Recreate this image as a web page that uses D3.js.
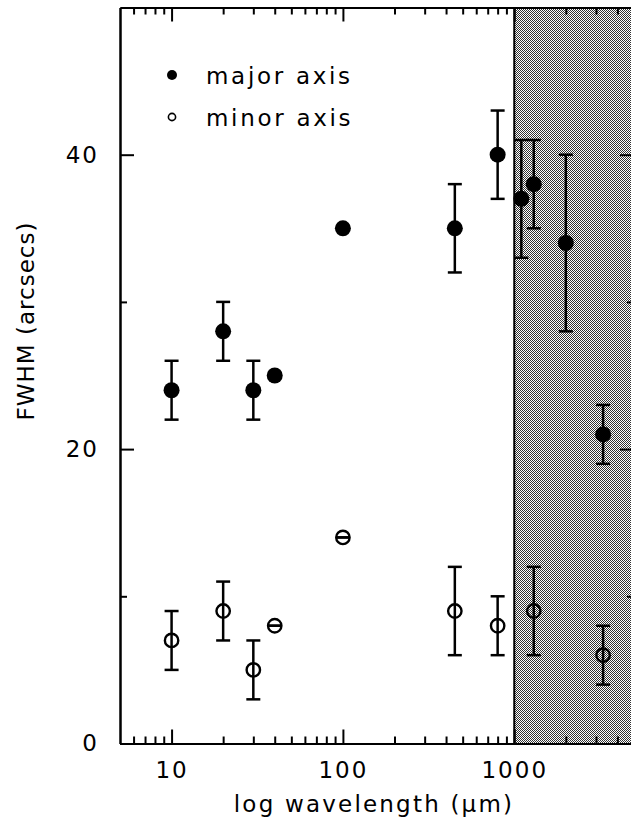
<!DOCTYPE html>
<html>
<head>
<meta charset="utf-8">
<script src="https://cdn.jsdelivr.net/npm/d3@7"></script>
<style>
  body { margin: 0; background: #fff; }
  svg { display: block; }
</style>
</head>
<body>
<script>
! function () {
  // data
  let majorWave = [10, 20, 30, 40, 100, 450, 800, 1100, 1300, 2000, 3300];
  let majorFwhm = [24, 28, 24, 25, 35, 35, 40, 37, 38, 34, 21];
  let majorErr = [2, 2, 2, 0, 0, 3, 3, 4, 3, 6, 2];

  let minorWave = [10, 20, 30, 40, 100, 450, 800, 1300, 3300];
  let minorFwhm = [7, 9, 5, 8, 14, 9, 8, 9, 6];
  let minorErr = [2, 2, 2, 0, 0, 3, 2, 3, 2];

  let xMajorTicks = [10, 100, 1000];
  let xMinorTicks = [6, 7, 8, 9, 20, 30, 40, 50, 60, 70, 80, 90,
    200, 300, 400, 500, 600, 700, 800, 900, 2000, 3000, 4000];
  let yMajorTicks = [0, 20, 40];
  let yMinorTicks = [10, 30];
  let shadeFrom = 1000;

  let font = '"DejaVu Sans", sans-serif';

  let svg = d3.select('body').append('svg').attr('width', 631).attr('height', 823);

  let x = d3.scaleLog().domain([5, 5000]).range([120, 634]);
  let y = d3.scaleLinear().domain([0, 50]).range([743.5, 7.5]);

  /**
   * shaded region (checkerboard)
   */
  let pat = svg.append('defs').append('pattern')
    .attr('id', 'chk')
    .attr('patternUnits', 'userSpaceOnUse')
    .attr('width', 2).attr('height', 2);
  pat.append('rect').attr('width', 2).attr('height', 2).attr('fill', '#fff');
  pat.append('rect').attr('x', 0).attr('y', 0).attr('width', 1).attr('height', 1).attr('fill', '#333');
  pat.append('rect').attr('x', 1).attr('y', 1).attr('width', 1).attr('height', 1).attr('fill', '#333');

  svg.append('rect')
    .attr('x', x(shadeFrom)).attr('y', y(50))
    .attr('width', x(5000) - x(shadeFrom)).attr('height', y(0) - y(50))
    .attr('fill', 'url(#chk)');
  svg.append('line')
    .attr('x1', x(shadeFrom)).attr('x2', x(shadeFrom))
    .attr('y1', y(50)).attr('y2', y(0))
    .style('stroke', 'black').style('stroke-width', 2);

  /**
   * axes, ticks point inwards
   */
  function styleAxis(g) {
    g.selectAll('path').style('stroke', 'black').style('stroke-width', 2);
    g.selectAll('line').style('stroke', 'black').style('stroke-width', 2);
    g.selectAll('text')
      .style('font-family', font)
      .style('font-size', '23px')
      .style('letter-spacing', '2px')
      .style('fill', 'black');
  }

  svg.append('g').attr('transform', 'translate(0,' + y(0) + ')')
    .call(d3.axisBottom(x).tickValues(xMajorTicks).tickFormat(d3.format('d'))
      .tickSize(-14).tickSizeOuter(0).tickPadding(18))
    .call(styleAxis);
  svg.append('g').attr('transform', 'translate(0,' + y(0) + ')')
    .call(d3.axisBottom(x).tickValues(xMinorTicks).tickFormat('')
      .tickSize(-7).tickSizeOuter(0))
    .call(styleAxis);

  svg.append('g').attr('transform', 'translate(0,' + y(50) + ')')
    .call(d3.axisTop(x).tickValues(xMajorTicks).tickFormat('')
      .tickSize(-14).tickSizeOuter(0))
    .call(styleAxis);
  svg.append('g').attr('transform', 'translate(0,' + y(50) + ')')
    .call(d3.axisTop(x).tickValues(xMinorTicks).tickFormat('')
      .tickSize(-7).tickSizeOuter(0))
    .call(styleAxis);

  svg.append('g').attr('transform', 'translate(' + x(5) + ',0)')
    .call(d3.axisLeft(y).tickValues(yMajorTicks).tickFormat(d3.format('d'))
      .tickSize(-14).tickSizeOuter(0).tickPadding(21))
    .call(styleAxis);
  svg.append('g').attr('transform', 'translate(' + x(5) + ',0)')
    .call(d3.axisLeft(y).tickValues(yMinorTicks).tickFormat('')
      .tickSize(-7).tickSizeOuter(0))
    .call(styleAxis);

  svg.append('g').attr('transform', 'translate(' + x(5000) + ',0)')
    .call(d3.axisRight(y).tickValues(yMajorTicks).tickFormat('')
      .tickSize(-14).tickSizeOuter(0))
    .call(styleAxis);
  svg.append('g').attr('transform', 'translate(' + x(5000) + ',0)')
    .call(d3.axisRight(y).tickValues(yMinorTicks).tickFormat('')
      .tickSize(-7).tickSizeOuter(0))
    .call(styleAxis);

  /**
   * axis titles
   */
  svg.append('text')
    .attr('x', 374).attr('y', 812)
    .attr('text-anchor', 'middle')
    .style('font-family', font).style('font-size', '23px').style('letter-spacing', '2.2px')
    .text('log wavelength (\u03bcm)');

  svg.append('text')
    .attr('transform', 'translate(34,321) rotate(-90)')
    .attr('text-anchor', 'middle')
    .style('font-family', font).style('font-size', '23px').style('letter-spacing', '1px')
    .text('FWHM (arcsecs)');

  /**
   * error bars + markers
   */
  function series(wave, fwhm, err, filled) {
    let data = wave.map(function (w, i) {
      return { w: w, v: fwhm[i], e: err[i] };
    });
    let g = svg.append('g');
    let pts = g.selectAll('g').data(data).enter().append('g');
    pts.append('line')
      .attr('x1', function (d) { return x(d.w); })
      .attr('x2', function (d) { return x(d.w); })
      .attr('y1', function (d) { return y(d.v - d.e); })
      .attr('y2', function (d) { return y(d.v + d.e); })
      .style('stroke', 'black').style('stroke-width', 2.5);
    [-1, 1].forEach(function (s) {
      pts.append('line')
        .attr('x1', function (d) { return x(d.w) - 7; })
        .attr('x2', function (d) { return x(d.w) + 7; })
        .attr('y1', function (d) { return y(d.v + s * d.e); })
        .attr('y2', function (d) { return y(d.v + s * d.e); })
        .style('stroke', 'black').style('stroke-width', 2.5);
    });
    pts.append('circle')
      .attr('cx', function (d) { return x(d.w); })
      .attr('cy', function (d) { return y(d.v); })
      .attr('r', filled ? 8 : 6.7)
      .style('fill', filled ? 'black' : 'none')
      .style('stroke', 'black')
      .style('stroke-width', filled ? 0 : 2.4);
  }
  series(majorWave, majorFwhm, majorErr, true);
  series(minorWave, minorFwhm, minorErr, false);

  /**
   * legend
   */
  let legend = [
    { label: 'major axis', filled: true, y: 75 },
    { label: 'minor axis', filled: false, y: 117 }
  ];
  let lg = svg.append('g').selectAll('g').data(legend).enter().append('g');
  lg.append('circle')
    .attr('cx', 172).attr('cy', function (d) { return d.y; })
    .attr('r', function (d) { return d.filled ? 5 : 3.6; })
    .style('fill', function (d) { return d.filled ? 'black' : 'none'; })
    .style('stroke', 'black')
    .style('stroke-width', function (d) { return d.filled ? 0 : 1.6; });
  lg.append('text')
    .attr('x', 206).attr('y', function (d) { return d.y + 8.5; })
    .style('font-family', font).style('font-size', '23px').style('letter-spacing', '2.7px')
    .text(function (d) { return d.label; });
}()
</script>
</body>
</html>
